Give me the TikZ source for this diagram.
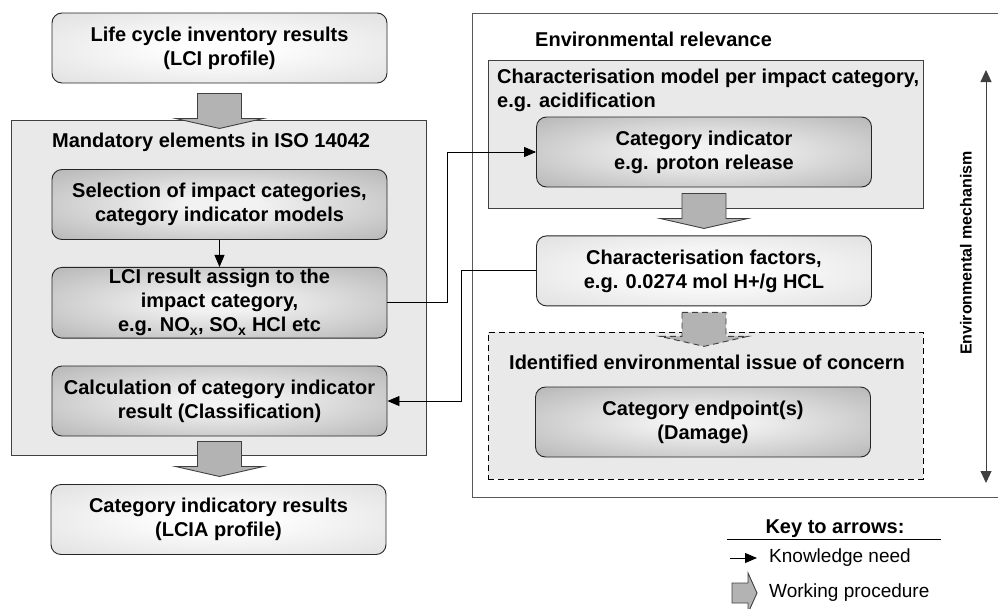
\documentclass[tikz,border=0pt]{standalone}
\usepackage{fontspec}
\setmainfont{Liberation Sans}
\usetikzlibrary{positioning,arrows.meta}

\definecolor{groupfill}{HTML}{E9E9E9}
\definecolor{arrowfill}{HTML}{B3B3B3}
\definecolor{darkcenter}{HTML}{F2F2F2}
\definecolor{darkedge}{HTML}{A2A2A2}
\definecolor{lightcenter}{HTML}{FFFFFF}
\definecolor{lightedge}{HTML}{D6D6D6}

\pgfdeclareradialshading{darkglow}{\pgfpoint{0bp}{0bp}}{color(0bp)=(darkcenter); color(6bp)=(darkcenter); color(46bp)=(darkedge); color(50bp)=(darkedge)}
\pgfdeclareradialshading{lightglow}{\pgfpoint{0bp}{0bp}}{color(0bp)=(lightcenter); color(6bp)=(lightcenter); color(46bp)=(lightedge); color(50bp)=(lightedge)}

\newcommand{\diagfont}{\fontsize{20}{24}\selectfont}

\begin{document}
\begin{tikzpicture}[x=1pt, y=-1pt,
                    resultnode/.style={rectangle, rounded corners=10pt, draw=black!85, line width=0.9pt, shading=lightglow, minimum width=335pt, minimum height=70pt, inner sep=2pt, align=center, font=\diagfont\bfseries},
                    stepnode/.style={resultnode, shading=darkglow},
                    groupnode/.style={rectangle, draw=black!75, line width=1pt, fill=groupfill},
                    titlenode/.style={inner sep=0pt, font=\diagfont\bfseries},
                    keynode/.style={inner sep=0pt, anchor=west, font=\fontsize{19}{23}\selectfont},
                    procarrow/.style={draw=black!75, line width=0.9pt, fill=arrowfill},
                    needarrow/.style={line width=0.9pt, -{Triangle[length=12pt, width=10pt]}},
                ]
                    \useasboundingbox (0,0) rectangle (998,608);
                    \clip (0,0) rectangle (998,608);

                    %Nodes
                    \node[resultnode](lci) at (219.5,48) {Life cycle inventory results\\(LCI profile)};
                    \node[groupnode, minimum width=415pt, minimum height=335pt](mandatory) at (218.5,287.5) {};
                    \node[titlenode, anchor=west](mandtitle) at (52,142) {Mandatory elements in ISO 14042};
                    \node[stepnode](select) at (219.5,204.5) {Selection of impact categories,\\category indicator models};
                    \node[stepnode](assign)[below=27pt of select] {LCI result assign to the\\impact category,\\e.g. NO\textsubscript{x}, SO\textsubscript{x} HCl etc};
                    \node[stepnode](calc)[below=27pt of assign] {Calculation of category indicator\\result (Classification)};
                    \node[resultnode](lcia) at (218.5,519.5) {Category indicatory results\\(LCIA profile)};

                    \node[groupnode, fill=white, draw=black!65, minimum width=540pt, minimum height=484pt](envrel) at (742,255) {};
                    \node[titlenode, anchor=west](envtitle) at (535,39) {Environmental relevance};
                    \node[groupnode, minimum width=435pt, minimum height=148pt](charmodel) at (705.5,134) {};
                    \node[titlenode, anchor=west, align=left](chartitle) at (497,90) {Characterisation model per impact category,\\e.g. acidification};
                    \node[stepnode](catind) at (704,152) {Category indicator\\e.g. proton release};
                    \node[resultnode](factors)[below=48pt of catind] {Characterisation factors,\\e.g. 0.0274 mol H+/g HCL};
                    \node[groupnode, draw=black, dash pattern=on 6pt off 4pt, minimum width=435pt, minimum height=147pt](issue) at (705.5,405.5) {};
                    \node[titlenode](issuetitle) at (707,362) {Identified environmental issue of concern};
                    \node[stepnode](endpoint) at (703,422) {Category endpoint(s)\\(Damage)};

                    \coordinate (mechtop) at (986,70);
                    \coordinate (mechbottom) at (986,483);
                    \node[titlenode, rotate=90, font=\fontsize{16}{19}\selectfont\bfseries](mechlabel) at (966,253) {Environmental mechanism};

                    %Key
                    \node[titlenode](keytitle) at (835,529) {Key to arrows:};
                    \coordinate (keyleft) at (727,539);
                    \coordinate (keyright) at (941,539);
                    \coordinate (needstart) at (730,558);
                    \coordinate (needend) at (757,558);
                    \node[keynode](needlabel) at (769,558) {Knowledge need};
                    \node[keynode](proclabel) at (769,593) {Working procedure};

                    %Lines
                    \foreach \from/\gap in {lci/10, calc/5, catind/6}
                        \draw[procarrow] (\from.south) ++(-22,\gap) -- ++(44,0) -- ++(0,25) -- ++(22,0) -- ++(-44,10) -- ++(-44,-10) -- ++(22,0) -- cycle;
                    \draw[procarrow, dash pattern=on 6pt off 4pt] (factors.south) ++(-22,6) -- ++(44,0) -- ++(0,24) -- ++(22,0) -- ++(-44,10) -- ++(-44,-10) -- ++(22,0) -- cycle;

                    \draw[needarrow](select) -- (assign);
                    \draw[needarrow](assign.east) -- ++(60,0) |- (catind.west);
                    \draw[needarrow](factors.west) -- ++(-75,0) |- (calc.east);
                    \draw[line width=0.9pt, draw=black!75, {Triangle[length=12pt, width=11pt]}-{Triangle[length=12pt, width=11pt]}](mechtop) -- (mechbottom);

                    \draw[line width=0.9pt](keyleft) -- (keyright);
                    \draw[needarrow](needstart) -- (needend);
                    \draw[procarrow](proclabel.west) ++(-37,-10) -- ++(16,0) -- ++(0,-10) -- ++(9,20) -- ++(-9,20) -- ++(0,-10) -- ++(-16,0) -- cycle;
                \end{tikzpicture}
\end{document}
